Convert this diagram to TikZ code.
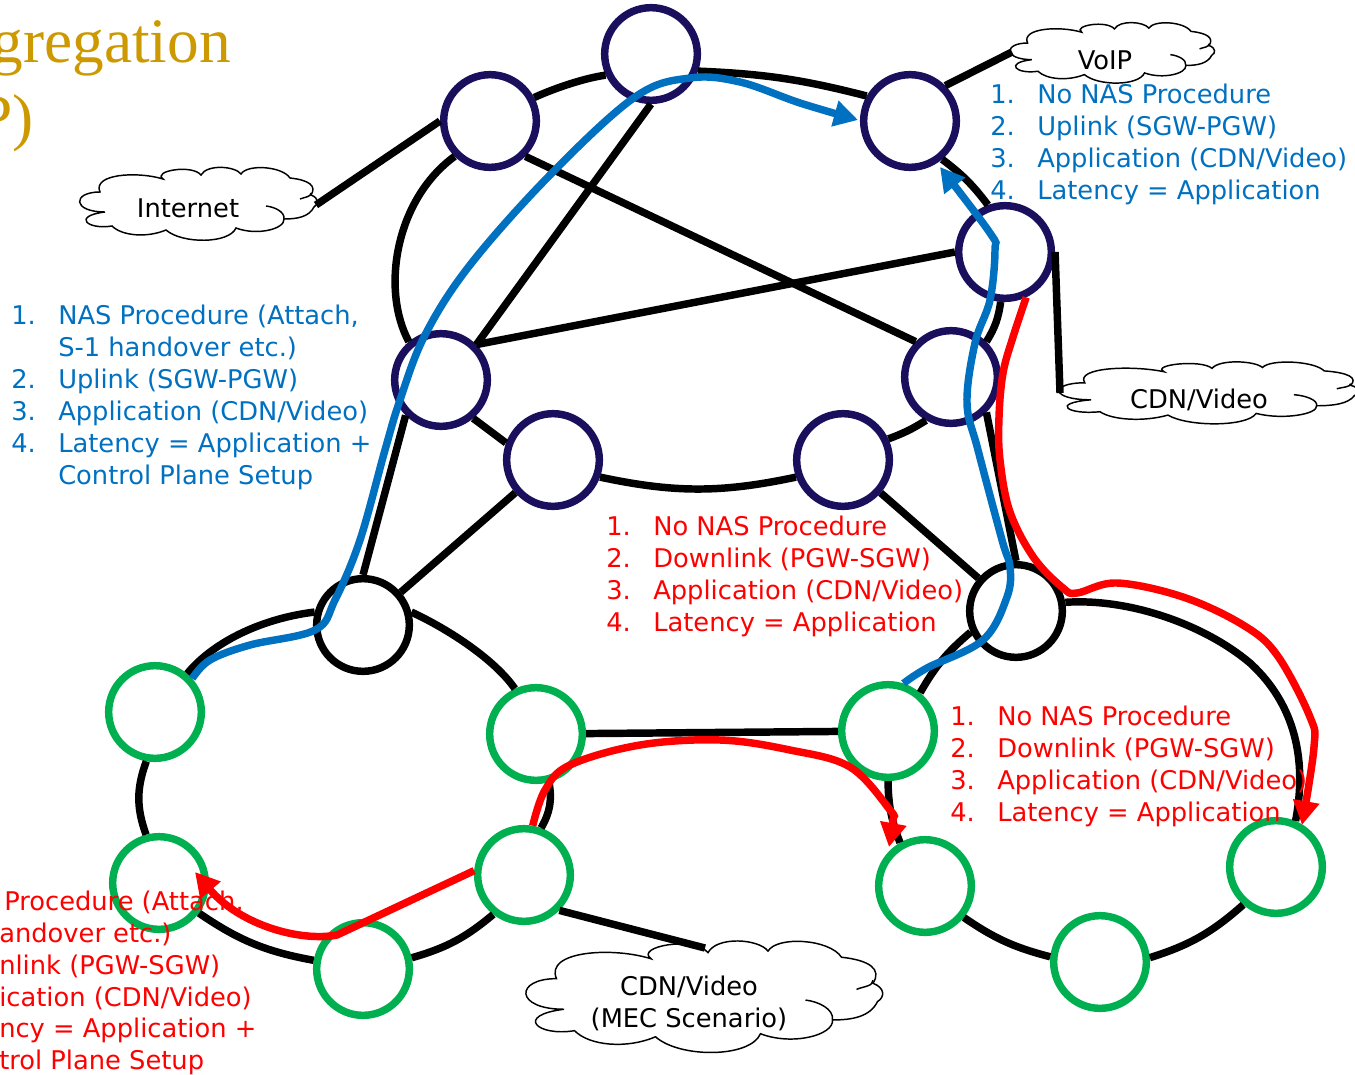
\documentclass[tikz,border=0pt]{standalone}
\usepackage{fontspec}
\setmainfont{DejaVu Sans}
\newfontfamily\titlefont{Liberation Serif}
\usetikzlibrary{arrows.meta}

\newcommand{\listfont}{\fontsize{19.3}{24}\selectfont}

\begin{document}
\begin{tikzpicture}[%
        x = 0.75pt, y = -0.75pt,
        router/.style = {draw, circle, line width=5.6pt, minimum size=69.5pt, inner sep=0pt},
        core/.style = {router, draw={rgb,255:red,26;green,15;blue,92}},
        edgenode/.style = {router, draw=black},
        access/.style = {router, draw={rgb,255:red,0;green,176;blue,80}},
        link/.style = {line width=5.6pt, black},
        uppath/.style = {line width=5.6pt, draw={rgb,255:red,0;green,112;blue,192}, -{Triangle[length=18pt,width=19pt]}},
        downpath/.style = {line width=5.6pt, draw=red, -{Triangle[length=18pt,width=19pt]}},
        bluetext/.style = {anchor=north west, inner sep=0pt, text={rgb,255:red,0;green,112;blue,192}, font=\listfont},
        redtext/.style = {anchor=north west, inner sep=0pt, text=red, font=\listfont},
        redcut/.style = {anchor=west, inner sep=0pt, text=red, font=\listfont},
        title/.style = {anchor=base east, inner sep=0pt, text={rgb,255:red,204;green,153;blue,0}, font=\titlefont\fontsize{47.5}{50}\selectfont},
        cloudtext/.style = {inner sep=0pt, align=center, font=\listfont},
        cloudpic/.pic = {
            \draw[line width=1.1pt, fill=white] (-92,8)
                .. controls (-125,8) and (-125,-12) .. (-97,-12)
                .. controls (-105,-30) and (-60,-33) .. (-34,-25)
                .. controls (-45,-33) and (-5,-40) .. (4,-29)
                .. controls (10,-40) and (38,-38) .. (44,-30)
                .. controls (50,-40) and (85,-38) .. (93,-26)
                .. controls (112,-24) and (120,-18) .. (114,-9)
                .. controls (122,-6) and (122,0) .. (117,3)
                .. controls (112,13) and (100,15) .. (87,15)
                .. controls (88,25) and (60,32) .. (39,24)
                .. controls (32,40) and (-15,40) .. (-31,26)
                .. controls (-50,34) and (-75,32) .. (-85,22)
                .. controls (-110,26) and (-125,12) .. (-92,8);
            \draw[line width=1.1pt] (114,-11) .. controls (114,-7) and (108,-7) .. (103,-5);
            \draw[line width=1.1pt] (69,2) .. controls (78,3) and (88,8) .. (87,15);
        }
    ]
      \useasboundingbox (0,0) rectangle (1355,1074);
      \node[title] (titleone) at (231,63) {gregation};
      \node[title] (titletwo) at (34,138) {P)};
      \pic[xscale=1.0] at (197,204) {cloudpic};
      \pic[xscale=0.86,yscale=0.83] at (1111,53) {cloudpic};
      \pic[xscale=1.26,yscale=0.85] at (1207,393) {cloudpic};
      \pic[xscale=1.5,yscale=1.53] at (702,997) {cloudpic};
      \node[cloudtext] (internet) at (188,208) {Internet};
      \node[cloudtext] (voip) at (1105,60) {VoIP};
      \node[cloudtext] (cdn) at (1199,400) {CDN/Video};
      \node[cloudtext] (mec) at (689,1003) {CDN/Video\\(MEC Scenario)};
      \coordinate (internetend) at (316,205);
      \coordinate (voipend) at (1012,52);
      \coordinate (cdnend) at (1060,393);
      \coordinate (mecend) at (705,948);
      \node[core] (n1) at (490,121) {};
      \node[core] (n2) at (651,54) {};
      \node[core] (n3) at (910,121) {};
      \node[core] (n4) at (1005,252) {};
      \node[core] (n5) at (951,377) {};
      \node[core] (n6) at (843,460) {};
      \node[core] (n7) at (553,460) {};
      \node[core] (n8) at (441,380) {};
      \node[edgenode] (n9) at (363,625) {};
      \node[edgenode] (n10) at (1016,611) {};
      \node[access] (g1) at (155,712) {};
      \node[access] (g2) at (536,734) {};
      \node[access] (g3) at (888,731) {};
      \node[access] (g4) at (159,883) {};
      \node[access] (g5) at (363,969) {};
      \node[access] (g6) at (524,875) {};
      \node[access] (g7) at (925,886) {};
      \node[access] (g8) at (1100,962) {};
      \node[access] (g9) at (1276,867) {};
      \draw[link] (n8.130) .. controls (381,290) and (395,200) .. (n1.225);
      \draw[link] (n1.28) .. controls (555,88) and (585,78) .. (n2.205);
      \draw[link] (n2.340) to[bend left=6] (n3.150);
      \draw[link] (n3.310) to[bend left=8] (n4.110);
      \draw[link] (n4.265) to[bend left=12] (n5.45);
      \draw[link] (n5.240) to[bend left=6] (n6.25);
      \draw[link] (n6.200) to[bend left=12] (n7.340);
      \draw[link] (n7.160) -- (n8.310);
      \draw[link] (n2.south) -- (n8.north east);
      \draw[link] (n1.south east) -- (n5.north west);
      \draw[link] (n8.north east) -- (n4.west);
      \draw[link] (n8.south west) -- (n9.north);
      \draw[link] (n7) -- (n9);
      \draw[link] (n6) -- (n10);
      \draw[link] (n5.south east) -- (n10.north);
      \draw[link] (n9.165) .. controls (265,618) and (215,640) .. (g1.50);
      \draw[link] (n9.15) .. controls (450,630) and (495,660) .. (g2.115);
      \draw[link] (g2.285) to[bend left=20] (g6.70);
      \draw[link] (g6.232) to[bend left=12] (g5.13);
      \draw[link] (g5.170) to[bend left=12] (g4.-37);
      \draw[link] (g4.105) to[bend left=20] (g1.260);
      \draw[link] (n10.205) to[bend right=10] (g3.50);
      \draw[link] (g3.south) to[bend right=10] (g7.120);
      \draw[link] (g7.-39) to[bend right=10] (g8.174);
      \draw[link] (g8.5) to[bend right=12] (g9.229);
      \draw[link] (n10.10) .. controls (1130,598) and (1205,625) .. (1250,663)
          .. controls (1285,695) and (1310,745) .. (g9.67);
      \draw[link] (g2) -- (g3);
      \draw[link] (n1.west) -- (internetend);
      \draw[link] (n3.45) -- (voipend);
      \draw[link] (n4.east) -- (cdnend);
      \draw[link] (g6.south east) -- (mecend);
      \node[bluetext] (bluetop) at (990,81) {\begin{tabular}{@{}p{35.25pt}@{}l@{}}
        1. & No NAS Procedure\\ 2. & Uplink (SGW-PGW)\\
        3. & Application (CDN/Video)\\ 4. & Latency = Application
      \end{tabular}};
      \node[bluetext] (blueleft) at (11,302) {\begin{tabular}{@{}p{35.25pt}@{}l@{}}
        1. & NAS Procedure (Attach,\\ & S-1 handover etc.)\\ 2. & Uplink (SGW-PGW)\\
        3. & Application (CDN/Video)\\ 4. & Latency = Application +\\ & Control Plane Setup
      \end{tabular}};
      \node[redtext] (redmid) at (606,513) {\begin{tabular}{@{}p{35.25pt}@{}l@{}}
        1. & No NAS Procedure\\ 2. & Downlink (PGW-SGW)\\
        3. & Application (CDN/Video)\\ 4. & Latency = Application
      \end{tabular}};
      \node[redtext] (redright) at (950,703) {\begin{tabular}{@{}p{35.25pt}@{}l@{}}
        1. & No NAS Procedure\\ 2. & Downlink (PGW-SGW)\\
        3. & Application (CDN/Video)\\ 4. & Latency = Application
      \end{tabular}};
      \node[redcut] (cutone) at (4,902) {Procedure (Attach,};
      \node[redcut] (cuttwo) at (-1,934) {andover etc.)};
      \node[redcut] (cutthree) at (-1,966) {nlink (PGW-SGW)};
      \node[redcut] (cutfour) at (-1,998) {ication (CDN/Video)};
      \node[redcut] (cutfive) at (-1,1030) {ncy = Application +};
      \node[redcut] (cutsix) at (-1,1062) {trol Plane Setup};
      \draw[uppath] plot[smooth, tension=0.6] coordinates {(g3.72) (927,668) (983,640) (1007,597)
          (1010,567) (1002,540) (978,450) (967,403) (975,343) (990,300) (995,250) (990,233) (940,167)};
      \draw[uppath] plot[smooth, tension=0.6] coordinates {(g1.42) (210,660) (250,645) (315,630)
          (335,600) (360,540) (385,450) (400,400) (425,335) (470,265) (550,175) (635,97)
          (690,78) (740,82) (800,103) (858,120)};
      \draw[downpath] plot[smooth, tension=0.6] coordinates {(n4.-65) (1013,337) (1003,373) (999,417)
          (1000,460) (1010,512) (1034,558) (1063,588) (1077,593) (1117,583) (1183,597) (1243,625)
          (1277,655) (1310,717) (1314,747) (1302,825)};
      \draw[downpath] plot[smooth, tension=0.6] coordinates {(g6.80) (545,790) (570,765) (640,745)
          (720,740) (790,750) (850,767) (890,810) (893,820) (889,847)};
      \draw[downpath] (g6.175) -- (337,935)
          .. controls (300,942) and (240,925) .. (195,872);
    \end{tikzpicture}
\end{document}
